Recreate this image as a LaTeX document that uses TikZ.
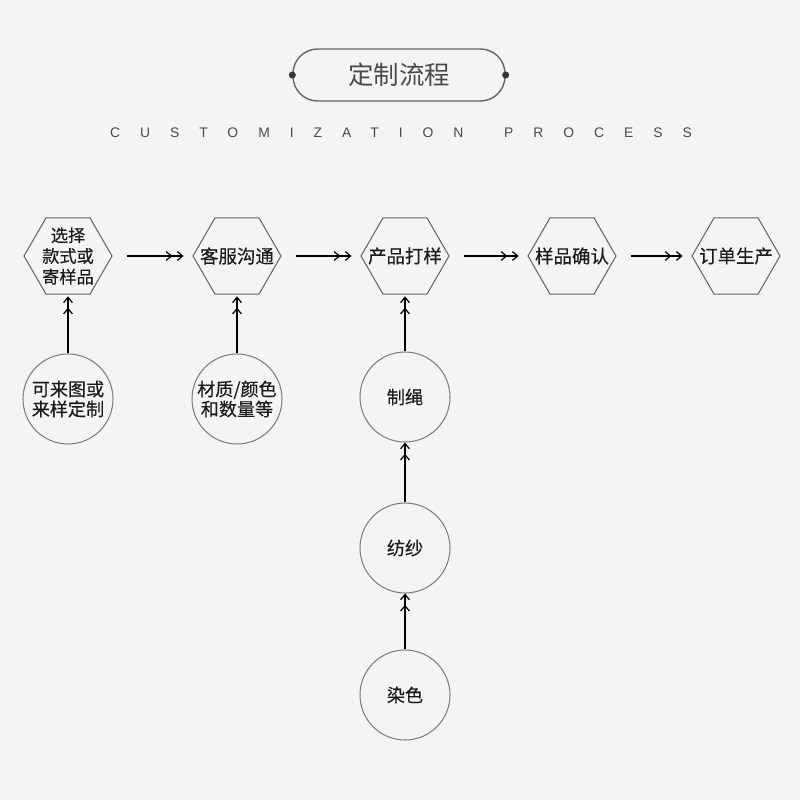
\documentclass[tikz,border=0pt]{standalone}
\usepackage{fontspec}
\setmainfont{Noto Sans CJK SC}[FakeBold=0.4]
\newfontfamily\titlefont{Noto Sans CJK SC}
\newfontfamily\latinsans{Liberation Sans}
\usetikzlibrary{shapes.geometric, arrows.meta, positioning}
\definecolor{bggray}{HTML}{F4F4F4}
\definecolor{edgegray}{HTML}{666666}
\definecolor{titlegray}{HTML}{4A4A4A}
\definecolor{textdark}{HTML}{1C1C1C}

\begin{document}
\begin{tikzpicture}[x=0.02cm, y=-0.02cm,
  hexbox/.style={regular polygon, regular polygon sides=6, minimum size=1.76cm,
                 inner sep=0pt, draw=edgegray, line width=0.6pt},
  hextext/.style={font=\fontsize{9.8}{11.8}\selectfont, text=textdark, align=center, inner sep=0pt},
  srcbox/.style={circle, minimum size=1.8cm, inner sep=0pt, draw=edgegray!85,
                 line width=0.6pt, font=\fontsize{10.3}{11.4}\selectfont,
                 text=textdark, align=center},
  arr/.style={-{Straight Barb[length=3pt,width=5pt,sep=2.5pt]Straight Barb[length=3pt,width=5pt]},
              black, line width=0.7pt},
]
  \useasboundingbox[fill=bggray] (0,0) rectangle (800,800);

  % title
  \node[draw=edgegray, line width=0.8pt, rounded corners=14pt, minimum width=4.24cm,
        minimum height=1.04cm, text=titlegray, font=\titlefont\fontsize{14.5}{16}\selectfont]
    (title) at (399,75) {定制流程};
  \fill[titlegray!70!black] (title.west) circle (3.5);
  \fill[titlegray!70!black] (title.east) circle (3.5);
  \node[font=\latinsans\fontsize{7.9}{9}\selectfont\addfontfeature{LetterSpace=144},
        text=titlegray] (subtitle) at (401,133) {CUSTOMIZATION\hspace{9.6pt} PROCESS};

  % main steps
  \node[hexbox] (h1) at (68,256) {};
  \node[hexbox] (h2) at (237,256) {};
  \node[hexbox] (h3) at (405,256) {};
  \node[hexbox] (h4) at (572,256) {};
  \node[hexbox] (h5) at (736,256) {};
  \node[hextext] (t1) at (h1) {选择\\款式或\\寄样品};
  \node[hextext] (t2) at (h2) {\fontsize{10.5}{12}\selectfont 客服沟通};
  \node[hextext] (t3) at (h3) {\fontsize{10.5}{12}\selectfont 产品打样};
  \node[hextext] (t4) at (h4) {\fontsize{10.5}{12}\selectfont 样品确认};
  \node[hextext] (t5) at (h5) {\fontsize{10.5}{12}\selectfont 订单生产};

  \foreach \a/\b in {h1/h2, h2/h3, h3/h4, h4/h5}
    \draw[arr, shorten <=8pt, shorten >=5pt] (\a) -- (\b);

  % inputs
  \node[srcbox] (c1) at (68,399) {可来图或\\来样定制};
  \node[srcbox] (c2) at (237,399) {材质/颜色\\和数量等};
  \node[srcbox] (c3) at (405,397) {制绳};
  \node[srcbox] (c4) at (405,548) {纺纱};
  \node[srcbox] (c5) at (405,695) {染色};

  \draw[arr, shorten >=1pt] (c1) -- (h1);
  \draw[arr, shorten >=1pt] (c2) -- (h2);
  \draw[arr, shorten >=1pt] (c3) -- (h3);
  \draw[arr] (c4) -- (c3);
  \draw[arr] (c5) -- (c4);
\end{tikzpicture}
\end{document}
